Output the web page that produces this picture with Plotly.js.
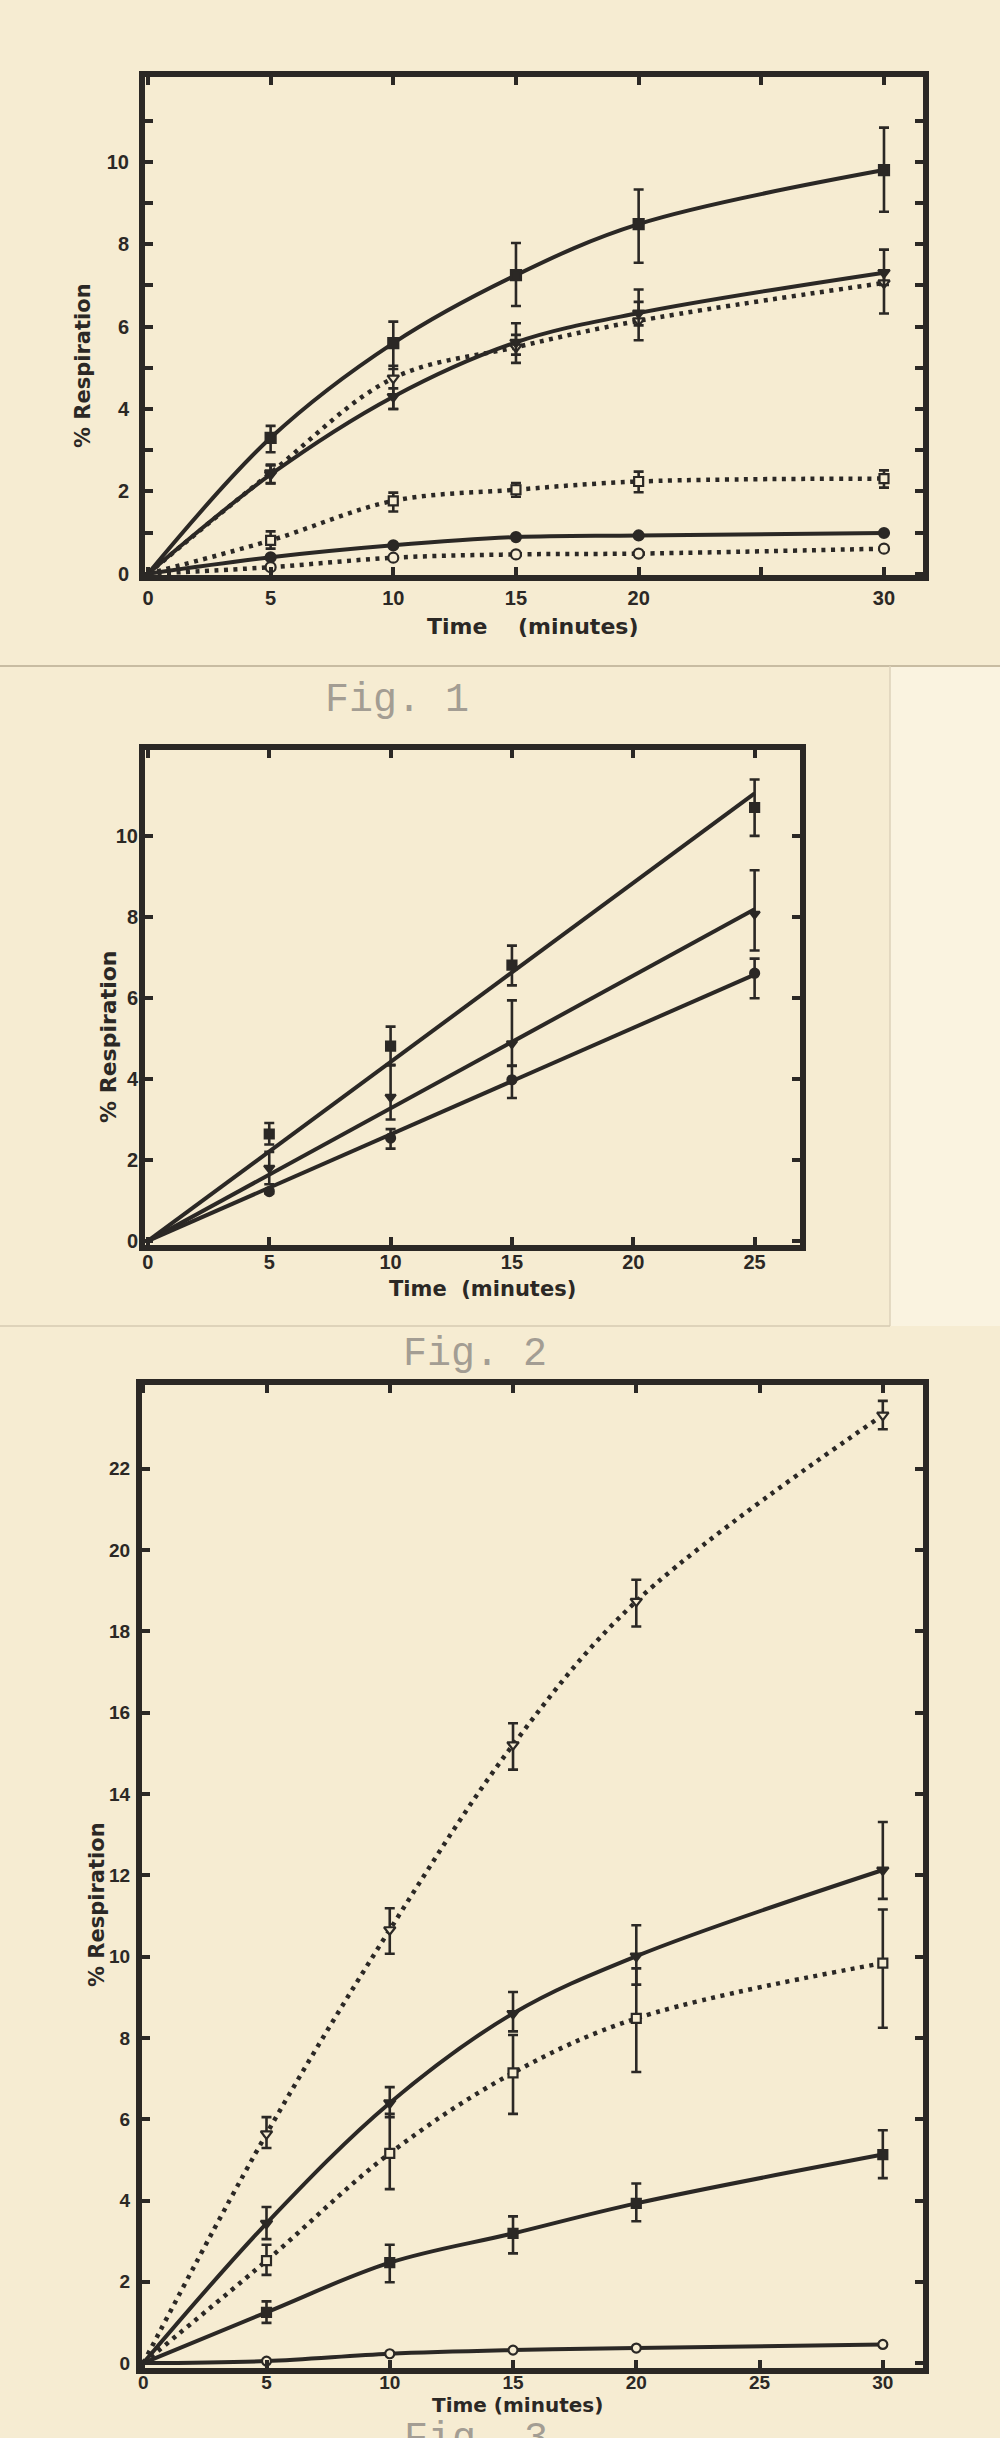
<!DOCTYPE html>
<html>
<head>
<meta charset="utf-8">
<script src="https://cdn.plot.ly/plotly-3.0.1.min.js"></script>
<style>
  html, body { margin: 0; padding: 0; background: #f6ecd2; }
  #chart { width: 1000px; height: 2438px; }
</style>
</head>
<body>
<div id="chart"></div>
<script>
// ---------------- Fig. 1 data ----------------
const time1 = [5, 10, 15, 20, 30];
const fig1FilledSquare = [3.3, 5.6, 7.25, 8.49, 9.8];
const fig1FilledSquareErrUp = [0.29, 0.52, 0.78, 0.84, 1.03];
const fig1FilledSquareErrDown = [0.35, 0.63, 0.75, 0.94, 1.01];
const fig1FilledTri = [2.41, 4.3, 5.62, 6.33, 7.31];
const fig1FilledTriErrUp = [0.22, 0.2, 0.46, 0.57, 0.56];
const fig1FilledTriErrDown = [0.22, 0.3, 0.3, 0.3, 0.3];
const fig1OpenTri = [2.45, 4.75, 5.5, 6.14, 7.06];
const fig1OpenTriErrUp = [0.2, 0.3, 0.3, 0.46, 0.3];
const fig1OpenTriErrDown = [0.25, 0.75, 0.38, 0.47, 0.74];
const fig1OpenSquare = [0.81, 1.77, 2.04, 2.24, 2.31];
const fig1OpenSquareErrUp = [0.22, 0.2, 0.16, 0.24, 0.2];
const fig1OpenSquareErrDown = [0.2, 0.26, 0.17, 0.26, 0.22];
const fig1FilledCircle = [0.4, 0.69, 0.89, 0.93, 0.99];
const fig1OpenCircle = [0.16, 0.39, 0.47, 0.49, 0.61];
const fig1XTickVals = [0, 5, 10, 15, 20, 25, 30];
const fig1XTickText = ['0', '5', '10', '15', '20', '', '30'];
const fig1YTickVals = [0, 1, 2, 3, 4, 5, 6, 7, 8, 9, 10, 11];
const fig1YTickText = ['0', '', '2', '', '4', '', '6', '', '8', '', '10', ''];

// ---------------- Fig. 2 data ----------------
const time2 = [5, 10, 15, 25];
const fig2FilledSquare = [2.64, 4.81, 6.81, 10.7];
const fig2FilledSquareErrUp = [0.27, 0.48, 0.48, 0.69];
const fig2FilledSquareErrDown = [0.26, 0.48, 0.5, 0.7];
const fig2FilledTri = [1.8, 3.55, 4.87, 8.07];
const fig2FilledTriErrUp = [0.4, 0.8, 1.07, 1.08];
const fig2FilledTriErrDown = [0.4, 0.55, 0.55, 0.9];
const fig2FilledCircle = [1.22, 2.54, 3.98, 6.61];
const fig2FilledCircleErrUp = [0.05, 0.22, 0.35, 0.36];
const fig2FilledCircleErrDown = [0.05, 0.26, 0.45, 0.62];
const fig2XTickVals = [0, 5, 10, 15, 20, 25];
const fig2YTickVals = [0, 2, 4, 6, 8, 10];

// ---------------- Fig. 3 data ----------------
const time3 = [5, 10, 15, 20, 30];
const fig3OpenTri = [5.64, 10.66, 15.21, 18.74, 23.32];
const fig3OpenTriErrUp = [0.41, 0.53, 0.53, 0.53, 0.35];
const fig3OpenTriErrDown = [0.35, 0.59, 0.61, 0.62, 0.35];
const fig3FilledTri = [3.44, 6.4, 8.6, 10.01, 12.13];
const fig3FilledTriErrUp = [0.4, 0.39, 0.53, 0.76, 1.18];
const fig3FilledTriErrDown = [0.39, 0.35, 0.44, 0.7, 0.71];
const fig3OpenSquare = [2.52, 5.16, 7.14, 8.48, 9.84];
const fig3OpenSquareErrUp = [0.39, 0.97, 0.93, 1.23, 1.32];
const fig3OpenSquareErrDown = [0.35, 0.88, 1.01, 1.32, 1.59];
const fig3FilledSquare = [1.25, 2.47, 3.19, 3.93, 5.13];
const fig3FilledSquareErrUp = [0.27, 0.44, 0.42, 0.49, 0.6];
const fig3FilledSquareErrDown = [0.26, 0.48, 0.49, 0.44, 0.58];
const fig3Circle = [0.05, 0.23, 0.32, 0.37, 0.46];
const fig3XTickVals = [0, 5, 10, 15, 20, 25, 30];
const fig3YTickVals = [0, 2, 4, 6, 8, 10, 12, 14, 16, 18, 20, 22];

// ---------------- styling ----------------
const ink = '#2b2825';
const bg = '#f6ecd2';
const SOLID = 'solid';
const DOTS = '4px,5.5px';

function curve(x, y, dash, xa, ya, width) {
  return {
    type: 'scatter', mode: 'lines', xaxis: xa, yaxis: ya,
    x: [0].concat(x), y: [0].concat(y),
    line: { shape: 'spline', smoothing: 1, color: ink, width: width || 4, dash: dash },
    hoverinfo: 'skip', showlegend: false
  };
}

function fitLine(x, y, xEnd, xa, ya) {
  // least-squares line through the origin, computed from the data
  let sxy = 0, sxx = 0;
  for (let i = 0; i < x.length; i++) { sxy += x[i] * y[i]; sxx += x[i] * x[i]; }
  const k = sxy / sxx;
  return {
    type: 'scatter', mode: 'lines', xaxis: xa, yaxis: ya,
    x: [0, xEnd], y: [0, k * xEnd],
    line: { color: ink, width: 4 },
    hoverinfo: 'skip', showlegend: false
  };
}

function points(x, y, up, down, symbol, size, xa, ya) {
  const open = symbol.indexOf('-open') >= 0;
  const t = {
    type: 'scatter', mode: 'markers', xaxis: xa, yaxis: ya, x: x, y: y,
    marker: { symbol: symbol.replace('-open', ''), size: size, color: open ? bg : ink,
              line: { color: ink, width: 2.2 } },
    hoverinfo: 'skip', showlegend: false
  };
  if (up) {
    t.error_y = { type: 'data', symmetric: false, array: up, arrayminus: down,
                  color: ink, thickness: 2.6, width: 5 };
  }
  return t;
}

const data = [
  // Fig. 1 curves
  curve(time1, fig1FilledSquare, SOLID, 'x', 'y'),
  curve(time1, fig1FilledTri, SOLID, 'x', 'y'),
  curve(time1, fig1OpenTri, DOTS, 'x', 'y', 4.5),
  curve(time1, fig1OpenSquare, DOTS, 'x', 'y', 4.5),
  curve(time1, fig1FilledCircle, SOLID, 'x', 'y'),
  curve(time1, fig1OpenCircle, DOTS, 'x', 'y', 4.5),
  // Fig. 1 points
  points(time1, fig1FilledSquare, fig1FilledSquareErrUp, fig1FilledSquareErrDown, 'square', 10, 'x', 'y'),
  points(time1, fig1OpenTri, fig1OpenTriErrUp, fig1OpenTriErrDown, 'triangle-down-open', 10, 'x', 'y'),
  points(time1, fig1FilledTri, fig1FilledTriErrUp, fig1FilledTriErrDown, 'triangle-down', 10, 'x', 'y'),
  points(time1, fig1OpenSquare, fig1OpenSquareErrUp, fig1OpenSquareErrDown, 'square-open', 9, 'x', 'y'),
  points(time1, fig1FilledCircle, null, null, 'circle', 10, 'x', 'y'),
  points(time1, fig1OpenCircle, null, null, 'circle-open', 10, 'x', 'y'),

  // Fig. 2 fitted lines
  fitLine(time2, fig2FilledSquare, 25, 'x2', 'y2'),
  fitLine(time2, fig2FilledTri, 25, 'x2', 'y2'),
  fitLine(time2, fig2FilledCircle, 25, 'x2', 'y2'),
  points(time2, fig2FilledSquare, fig2FilledSquareErrUp, fig2FilledSquareErrDown, 'square', 9, 'x2', 'y2'),
  points(time2, fig2FilledTri, fig2FilledTriErrUp, fig2FilledTriErrDown, 'triangle-down', 9, 'x2', 'y2'),
  points(time2, fig2FilledCircle, fig2FilledCircleErrUp, fig2FilledCircleErrDown, 'circle', 9, 'x2', 'y2'),

  // Fig. 3 curves
  curve(time3, fig3OpenTri, DOTS, 'x3', 'y3', 4.5),
  curve(time3, fig3FilledTri, SOLID, 'x3', 'y3'),
  curve(time3, fig3OpenSquare, DOTS, 'x3', 'y3', 4.5),
  curve(time3, fig3FilledSquare, SOLID, 'x3', 'y3'),
  curve(time3, fig3Circle, SOLID, 'x3', 'y3'),
  points(time3, fig3OpenTri, fig3OpenTriErrUp, fig3OpenTriErrDown, 'triangle-down-open', 10, 'x3', 'y3'),
  points(time3, fig3FilledTri, fig3FilledTriErrUp, fig3FilledTriErrDown, 'triangle-down', 10, 'x3', 'y3'),
  points(time3, fig3OpenSquare, fig3OpenSquareErrUp, fig3OpenSquareErrDown, 'square-open', 9, 'x3', 'y3'),
  points(time3, fig3FilledSquare, fig3FilledSquareErrUp, fig3FilledSquareErrDown, 'square', 9, 'x3', 'y3'),
  points(time3, fig3Circle, null, null, 'circle-open', 9, 'x3', 'y3')
];

const tickFontBig = { family: 'Liberation Sans, Arial, sans-serif', size: 20, color: ink, weight: 'bold' };
const tickFontSmall = { family: 'Liberation Sans, Arial, sans-serif', size: 19, color: ink, weight: 'bold' };

function axis(extra) {
  return Object.assign({
    showline: true, linewidth: 6, linecolor: ink, mirror: 'ticks',
    ticks: 'inside', ticklen: 8, tickwidth: 4, tickcolor: ink,
    showgrid: false, zeroline: false, fixedrange: true, tickmode: 'array'
  }, extra);
}

const H = 2438;
function py(px) { return 1 - px / H; }

const titleFont = (s) => ({ family: 'DejaVu Sans, Verdana, sans-serif', size: s, color: ink, weight: 'bold' });
const figFont = { family: 'Liberation Mono, Courier New, monospace', size: 40, color: '#a39d93' };

const layout = {
  width: 1000, height: H,
  margin: { l: 0, r: 0, t: 0, b: 0 },
  paper_bgcolor: bg, plot_bgcolor: 'rgba(0,0,0,0)',
  showlegend: false,
  xaxis: axis({ domain: [0.145, 0.923], anchor: 'y', range: [-0.12, 31.59],
                tickvals: fig1XTickVals, ticktext: fig1XTickText, tickfont: tickFontBig, ticklabelstandoff: 0 }),
  yaxis: axis({ domain: [py(575), py(77)], anchor: 'x', range: [-0.03, 12.06],
                tickvals: fig1YTickVals, ticktext: fig1YTickText, tickfont: tickFontBig, ticklabelstandoff: 6 }),
  xaxis2: axis({ domain: [0.145, 0.800], anchor: 'y2', range: [-0.12, 26.87],
                 tickvals: fig2XTickVals, tickfont: tickFontBig, ticklabelstandoff: -6 }),
  yaxis2: axis({ domain: [py(1245), py(750)], anchor: 'x2', range: [-0.1, 12.12],
                 tickvals: fig2YTickVals, tickfont: tickFontBig, ticklabelstandoff: -3 }),
  xaxis3: axis({ domain: [0.142, 0.923], anchor: 'y3', range: [-0.05, 31.63],
                 tickvals: fig3XTickVals, tickfont: tickFontSmall, ticklabelstandoff: -8 }),
  yaxis3: axis({ domain: [py(2368), py(1385)], anchor: 'x3', range: [-0.12, 24.06],
                 tickvals: fig3YTickVals, tickfont: tickFontSmall, ticklabelstandoff: 2 }),
  shapes: [
    { type: 'rect', xref: 'paper', yref: 'paper', x0: 0.89, x1: 1.0, y0: py(1326), y1: py(666),
      fillcolor: '#faf3e0', line: { width: 0 }, layer: 'below' },
    { type: 'line', xref: 'paper', yref: 'paper', x0: 0, x1: 1, y0: py(666), y1: py(666),
      line: { color: '#c8bca2', width: 2 } },
    { type: 'line', xref: 'paper', yref: 'paper', x0: 0.89, x1: 0.89, y0: py(1326), y1: py(666),
      line: { color: '#ddd2ba', width: 1.5 } },
    { type: 'line', xref: 'paper', yref: 'paper', x0: 0, x1: 0.89, y0: py(1326), y1: py(1326),
      line: { color: '#d6cbb2', width: 1.5 } }
  ],
  annotations: [
    { xref: 'paper', yref: 'paper', x: 0.532, y: py(627), text: 'Time\u00a0\u00a0\u00a0\u00a0(minutes)',
      showarrow: false, font: titleFont(22), xanchor: 'center', yanchor: 'middle' },
    { xref: 'paper', yref: 'paper', x: 0.083, y: py(366), text: '% Respiration', textangle: -90,
      showarrow: false, font: titleFont(21), xanchor: 'center', yanchor: 'middle' },
    { xref: 'paper', yref: 'paper', x: 0.397, y: py(700), text: 'Fig. 1',
      showarrow: false, font: figFont, xanchor: 'center', yanchor: 'middle' },

    { xref: 'paper', yref: 'paper', x: 0.482, y: py(1289), text: 'Time\u00a0\u00a0(minutes)',
      showarrow: false, font: titleFont(21), xanchor: 'center', yanchor: 'middle' },
    { xref: 'paper', yref: 'paper', x: 0.108, y: py(1037), text: '% Respiration', textangle: -90,
      showarrow: false, font: titleFont(22), xanchor: 'center', yanchor: 'middle' },
    { xref: 'paper', yref: 'paper', x: 0.475, y: py(1354), text: 'Fig. 2',
      showarrow: false, font: figFont, xanchor: 'center', yanchor: 'middle' },

    { xref: 'paper', yref: 'paper', x: 0.517, y: py(2405), text: 'Time (minutes)',
      showarrow: false, font: titleFont(20), xanchor: 'center', yanchor: 'middle' },
    { xref: 'paper', yref: 'paper', x: 0.097, y: py(1905), text: '% Respiration', textangle: -90,
      showarrow: false, font: titleFont(21), xanchor: 'center', yanchor: 'middle' },
    { xref: 'paper', yref: 'paper', x: 0.476, y: py(2415), text: 'Fig. 3',
      showarrow: false, font: figFont, xanchor: 'center', yanchor: 'top' }
  ]
};

Plotly.newPlot('chart', data, layout, { staticPlot: true, displayModeBar: false });
</script>
</body>
</html>
